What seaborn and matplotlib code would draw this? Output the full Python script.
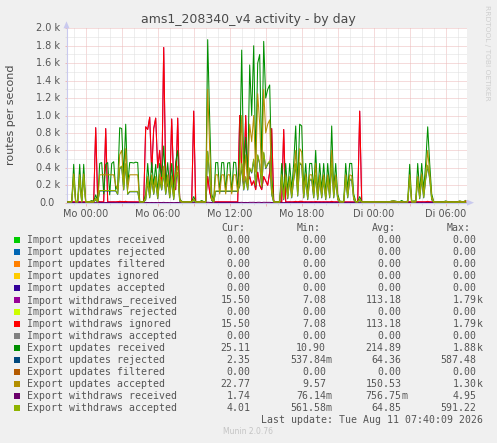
import numpy as np
import pandas as pd
import matplotlib
matplotlib.use("Agg")
import matplotlib.pyplot as plt
import matplotlib.patches as mpatches
import matplotlib.transforms as mtransforms
import seaborn as sns

# ---------------------------------------------------------------- data
# samples every 10 minutes, hours relative to "Mo 00:00"
T_START = -1.5
T_STEP = 1.0 / 6.0

export_updates_received = [
    12, 12, 14, 440, 12, 20, 440, 15, 440, 14,
    12, 13, 25, 14, 90, 15, 450, 460, 100, 440,
    460, 90, 450, 470, 150, 200, 860, 850, 300, 900,
    200, 460, 460, 455, 465, 460, 13, 12, 14, 100,
    450, 150, 460, 200, 440, 120, 450, 300, 650, 200,
    460, 150, 450, 100, 470, 600, 50, 13, 12, 12,
    13, 12, 14, 70, 14, 12, 12, 25, 12, 14,
    1870, 950, 100, 20, 460, 460, 120, 460, 460, 130,
    455, 460, 120, 465, 460, 150, 500, 1750, 350, 750,
    300, 1580, 1000, 1800, 500, 1600, 1700, 450, 1850, 1200,
    1300, 1350, 300, 15, 12, 12, 13, 450, 100, 450,
    120, 450, 150, 450, 880, 200, 900, 880, 150, 450,
    100, 450, 450, 150, 600, 100, 450, 150, 450, 100,
    450, 150, 880, 150, 450, 100, 20, 15, 14, 450,
    150, 450, 450, 100, 15, 12, 70, 14, 12, 13,
    12, 12, 13, 12, 12, 12, 13, 12, 12, 12,
    13, 12, 20, 22, 18, 12, 12, 25, 12, 12,
    20, 440, 15, 20, 20, 450, 120, 450, 150, 450,
    870, 450, 100, 14, 12, 12, 13, 12, 12, 20,
    13, 12, 12, 13, 12, 12, 20, 14, 13, 25.11,
]

import_withdraws_ignored = [
    8, 8, 9, 10, 8, 9, 10, 8, 10, 8,
    8, 9, 10, 9, 860, 20, 10, 10, 9, 850,
    10, 9, 10, 10, 9, 12, 15, 14, 12, 15,
    10, 10, 10, 10, 10, 10, 9, 8, 9, 870,
    840, 980, 350, 850, 970, 400, 600, 200, 1780, 300,
    200, 150, 960, 200, 150, 970, 30, 9, 8, 8,
    9, 8, 10, 1050, 12, 8, 8, 10, 8, 9,
    300, 120, 30, 10, 10, 10, 9, 10, 10, 9,
    10, 10, 9, 10, 10, 9, 1000, 400, 200, 1000,
    250, 300, 200, 250, 150, 350, 200, 150, 300, 250,
    200, 350, 850, 20, 8, 8, 9, 10, 840, 10,
    9, 10, 9, 10, 15, 10, 15, 15, 9, 10,
    9, 10, 10, 9, 12, 9, 10, 9, 10, 9,
    10, 9, 15, 9, 10, 9, 9, 9, 9, 10,
    9, 10, 10, 9, 9, 8, 1050, 12, 8, 9,
    8, 8, 9, 8, 8, 8, 9, 8, 8, 8,
    9, 8, 9, 9, 9, 8, 8, 10, 8, 8,
    9, 10, 9, 10, 10, 10, 9, 10, 9, 10,
    15, 10, 9, 9, 8, 8, 9, 8, 8, 9,
    9, 8, 8, 9, 8, 8, 10, 9, 9, 15.5,
]
# "Import withdraws_received" carries exactly the same values (same stats)
import_withdraws_received = import_withdraws_ignored

export_updates_accepted = [
    10, 10, 11, 330, 10, 15, 320, 12, 330, 11,
    10, 10, 18, 11, 50, 12, 320, 320, 320, 320,
    320, 320, 320, 320, 200, 150, 550, 600, 200, 620,
    150, 320, 320, 320, 320, 320, 10, 10, 11, 60,
    300, 100, 320, 150, 300, 80, 330, 200, 420, 150,
    320, 100, 310, 70, 330, 420, 40, 10, 10, 10,
    11, 10, 11, 40, 11, 10, 10, 18, 10, 11,
    1300, 620, 60, 15, 320, 320, 100, 320, 320, 100,
    320, 320, 100, 320, 320, 110, 350, 1000, 250, 550,
    200, 900, 700, 1000, 350, 1250, 900, 300, 1300, 800,
    900, 950, 200, 12, 10, 10, 10, 320, 60, 320,
    80, 300, 100, 310, 600, 130, 620, 580, 100, 330,
    70, 320, 320, 100, 450, 70, 320, 100, 320, 70,
    320, 100, 600, 100, 320, 70, 15, 12, 11, 320,
    100, 320, 310, 70, 12, 10, 40, 11, 10, 10,
    10, 11, 10, 10, 11, 10, 10, 11, 10, 10,
    10, 10, 18, 20, 15, 10, 10, 14, 10, 10,
    15, 320, 12, 15, 15, 300, 80, 330, 100, 320,
    600, 330, 70, 11, 10, 10, 10, 10, 10, 15,
    11, 10, 10, 11, 10, 10, 18, 12, 11, 22.77,
]

export_withdraws_accepted = [
    5, 5, 5, 300, 5, 6, 290, 5, 300, 5,
    5, 5, 6, 5, 40, 6, 140, 140, 140, 140,
    140, 140, 140, 140, 140, 100, 400, 420, 150, 450,
    100, 130, 130, 130, 130, 130, 5, 5, 6, 40,
    250, 60, 280, 100, 260, 50, 270, 150, 350, 100,
    280, 60, 270, 40, 280, 350, 20, 5, 5, 5,
    5, 5, 6, 30, 5, 5, 5, 6, 5, 5,
    590, 300, 30, 6, 135, 135, 135, 135, 135, 135,
    135, 135, 135, 135, 135, 135, 200, 450, 150, 300,
    150, 400, 350, 500, 200, 550, 450, 180, 580, 400,
    450, 480, 100, 6, 5, 5, 5, 300, 40, 280,
    50, 270, 60, 270, 450, 80, 460, 440, 60, 280,
    40, 270, 270, 60, 320, 40, 270, 60, 270, 40,
    270, 60, 450, 60, 270, 40, 6, 6, 6, 280,
    60, 270, 270, 40, 6, 5, 30, 5, 5, 5,
    5, 5, 5, 5, 5, 5, 5, 5, 5, 5,
    5, 5, 6, 6, 6, 5, 5, 6, 5, 5,
    6, 280, 5, 6, 6, 270, 50, 280, 60, 280,
    430, 280, 40, 5, 5, 5, 5, 5, 5, 6,
    5, 5, 5, 5, 5, 5, 6, 5, 5, 4.01,
]

export_updates_rejected = [
    1, 1, 1, 290, 1, 2, 280, 1, 290, 1,
    1, 1, 3, 1, 35, 2, 135, 135, 135, 135,
    135, 135, 135, 135, 135, 95, 390, 410, 145, 440,
    95, 125, 125, 125, 125, 125, 1, 1, 2, 35,
    240, 55, 270, 95, 250, 45, 260, 145, 340, 95,
    270, 55, 260, 35, 270, 340, 15, 1, 1, 1,
    1, 1, 2, 25, 1, 1, 1, 3, 1, 1,
    587, 290, 25, 4, 130, 130, 130, 130, 130, 130,
    130, 130, 130, 130, 130, 130, 190, 440, 145, 290,
    145, 390, 340, 490, 190, 540, 440, 175, 570, 390,
    440, 470, 95, 2, 1, 1, 1, 290, 35, 270,
    45, 260, 55, 260, 440, 75, 450, 430, 55, 270,
    35, 260, 260, 55, 310, 35, 260, 55, 260, 35,
    260, 55, 440, 55, 260, 35, 3, 2, 2, 270,
    55, 260, 260, 35, 2, 1, 25, 1, 1, 1,
    1, 1, 1, 1, 1, 1, 1, 1, 1, 1,
    1, 1, 2, 2, 2, 1, 1, 2, 1, 1,
    2, 270, 1, 2, 2, 260, 45, 270, 55, 270,
    420, 270, 35, 1, 1, 1, 1, 1, 1, 2,
    1, 1, 1, 1, 1, 1, 2, 1, 1, 2.35,
]

export_withdraws_received = [
    0.3, 0.3, 0.3, 2.1, 0.3, 0.4, 1.9, 0.3, 2.0, 0.3, 0.3, 0.3, 0.5, 0.3, 1.2, 0.4, 1.8, 2.0, 1.0, 2.2,
    1.9, 0.8, 2.1, 2.0, 1.1, 1.0, 3.2, 3.0, 1.4, 3.4, 1.0, 1.9, 2.0, 1.9, 2.0, 1.9, 0.3, 0.2, 0.3, 1.5,
    2.2, 1.0, 2.4, 1.2, 2.3, 0.9, 2.2, 1.5, 3.8, 1.1, 2.1, 0.9, 2.2, 0.8, 2.3, 2.8, 0.4, 0.2, 0.2, 0.2,
    0.2, 0.2, 0.3, 1.1, 0.3, 0.2, 0.2, 0.4, 0.2, 0.3, 4.95, 3.1, 0.6, 0.3, 2.0, 2.0, 0.9, 2.0, 2.0, 0.9,
    2.0, 2.0, 0.9, 2.0, 2.0, 1.0, 2.5, 4.5, 1.5, 3.0, 1.2, 4.2, 3.5, 4.6, 1.8, 4.3, 4.4, 1.6, 4.8, 3.6,
    3.8, 3.9, 1.5, 0.3, 0.2, 0.2, 0.2, 2.0, 1.0, 2.0, 0.8, 2.0, 0.9, 2.0, 3.0, 1.0, 3.1, 3.0, 0.9, 2.0,
    0.8, 2.0, 2.0, 0.9, 2.4, 0.8, 2.0, 0.9, 2.0, 0.8, 2.0, 0.9, 3.0, 0.9, 2.0, 0.8, 0.3, 0.2, 0.2, 2.0,
    0.9, 2.0, 2.0, 0.8, 0.2, 0.1, 1.1, 0.2, 0.1, 0.1, 0.1, 0.1, 0.1, 0.1, 0.1, 0.1, 0.1, 0.1, 0.1, 0.1,
    0.1, 0.1, 0.3, 0.3, 0.2, 0.1, 0.1, 0.3, 0.1, 0.1, 0.2, 1.9, 0.2, 0.3, 0.3, 2.0, 0.8, 2.0, 0.9, 2.0,
    3.0, 2.0, 0.8, 0.2, 0.1, 0.1, 0.1, 0.1, 0.1, 0.3, 0.1, 0.1, 0.1, 0.1, 0.1, 0.1, 0.3, 0.2, 0.2, 1.74,
]

# x ticks
x_major_hours = [0, 3, 6, 9, 12, 15, 18, 21, 24, 27, 30]
x_major_labels = ["Mo 00:00", "", "Mo 06:00", "", "Mo 12:00", "", "Mo 18:00", "",
                  "Di 00:00", "", "Di 06:00"]
y_values = [0, 200, 400, 600, 800, 1000, 1200, 1400, 1600, 1800, 2000]
y_labels = ["0.0", "0.2 k", "0.4 k", "0.6 k", "0.8 k", "1.0 k", "1.2 k", "1.4 k",
            "1.6 k", "1.8 k", "2.0 k"]

# legend table (as printed by munin)
legend_names = [
    "Import updates received", "Import updates rejected", "Import updates filtered",
    "Import updates ignored", "Import updates accepted", "Import withdraws_received",
    "Import withdraws rejected", "Import withdraws ignored", "Import withdraws accepted",
    "Export updates received", "Export updates rejected", "Export updates filtered",
    "Export updates accepted", "Export withdraws received", "Export withdraws accepted",
]
legend_colors = [
    "#00CC00", "#0066B3", "#FF8000", "#FFCC00", "#330099", "#990099", "#CCFF00",
    "#FF0000", "#808080", "#008F00", "#00487D", "#B35A00", "#B38F00", "#6B006B", "#8FB300",
]
cur_vals = ["0.00", "0.00", "0.00", "0.00", "0.00", "15.50", "0.00", "15.50", "0.00",
            "25.11", "2.35", "0.00", "22.77", "1.74", "4.01"]
min_vals = ["0.00", "0.00", "0.00", "0.00", "0.00", "7.08", "0.00", "7.08", "0.00",
            "10.90", "537.84m", "0.00", "9.57", "76.14m", "561.58m"]
avg_vals = ["0.00", "0.00", "0.00", "0.00", "0.00", "113.18", "0.00", "113.18", "0.00",
            "214.89", "64.36", "0.00", "150.53", "756.75m", "64.85"]
max_vals = ["0.00", "0.00", "0.00", "0.00", "0.00", "1.79k", "0.00", "1.79k", "0.00",
            "1.88k", "587.48", "0.00", "1.30k", "4.95", "591.22"]

# ---------------------------------------------------------------- build frame
N = len(export_updates_received)
hours = T_START + np.arange(N) * T_STEP
drawn = [
    ("Import withdraws_received", import_withdraws_received, "#990099"),
    ("Import withdraws ignored", import_withdraws_ignored, "#FF0000"),
    ("Export updates received", export_updates_received, "#008F00"),
    ("Export updates rejected", export_updates_rejected, "#00487D"),
    ("Export updates accepted", export_updates_accepted, "#B38F00"),
    ("Export withdraws received", export_withdraws_received, "#6B006B"),
    ("Export withdraws accepted", export_withdraws_accepted, "#8FB300"),
]
for name, vals, _ in drawn:
    assert len(vals) == N, (name, len(vals))
df = pd.concat(
    [pd.DataFrame({"hours": hours, "rate": np.asarray(v, float), "series": n}) for n, v, _ in drawn],
    ignore_index=True)

# ---------------------------------------------------------------- figure
W_PX, H_PX, DPI = 497, 443, 100
fig = plt.figure(figsize=(W_PX / DPI, H_PX / DPI), dpi=DPI, facecolor="#F0F0F0")


def fx(x):
    return x / W_PX


def fy(y):
    return 1 - y / H_PX


AX_L, AX_R, AX_T, AX_B = 66.5, 467.0, 28.3, 202.7
ax = fig.add_axes([fx(AX_L), fy(AX_B), (AX_R - AX_L) / W_PX, (AX_B - AX_T) / H_PX])
ax.set_facecolor("white")

sns.lineplot(data=df, x="hours", y="rate", hue="series",
             hue_order=[d[0] for d in drawn],
             palette={d[0]: d[2] for d in drawn},
             estimator=None, sort=False, legend=False, linewidth=0.75, ax=ax, zorder=3)

ax.set_xlim(-1.6, 31.775)
ax.set_ylim(0, 2000)
ax.set_xlabel("")
ax.set_ylabel("")

MGRID = "#EDB9B9"
GRID = "#DFDFDF"
AXIS_C = "#C9C9EE"
ax.set_xticks(x_major_hours, x_major_labels)
ax.set_xticks(np.arange(-1, 32, 1), minor=True)
ax.set_yticks(y_values, [""] * len(y_values))
ax.set_yticks(np.arange(100, 2000, 200), minor=True)
ax.set_axisbelow(True)
ax.grid(which="major", color=MGRID, linestyle=(0, (1, 1)), linewidth=0.72)
ax.grid(which="minor", color=GRID, linestyle=(0, (1, 1)), linewidth=0.72)
ax.tick_params(axis="x", which="major", length=2.3, width=0.72, color=MGRID, pad=2.3,
               labelsize=7, labelcolor="#555555")
ax.tick_params(axis="x", which="minor", length=1.5, width=0.72, color=GRID)
ax.tick_params(axis="y", which="major", length=1.5, width=0.72, color=MGRID)
ax.tick_params(axis="y", which="minor", length=1.5, width=0.72, color=GRID)
for s in ("top", "right"):
    ax.spines[s].set_visible(False)
for s in ("left", "bottom"):
    ax.spines[s].set_color(AXIS_C)
    ax.spines[s].set_linewidth(0.8)

# y tick labels (rrdtool style, "0.0" without unit)
ytrans = mtransforms.blended_transform_factory(ax.transAxes, ax.transData)
for v, lab in zip(y_values, y_labels):
    off = -6.5 if lab.endswith("k") else -11.5
    ax.text(0, v, lab, transform=ytrans + mtransforms.ScaledTranslation(off / DPI, 0, fig.dpi_scale_trans),
            ha="right", va="center", fontsize=7, color="#555555")

# axis arrows
fig.patches.append(mpatches.Polygon(
    [(fx(467), fy(199.7)), (fx(474), fy(202.7)), (fx(467), fy(205.7))],
    closed=True, transform=fig.transFigure, facecolor=AXIS_C, edgecolor="none"))
fig.patches.append(mpatches.Polygon(
    [(fx(63.5), fy(28.3)), (fx(66.5), fy(21.3)), (fx(69.5), fy(28.3))],
    closed=True, transform=fig.transFigure, facecolor=AXIS_C, edgecolor="none"))

# titles
fig.text(fx(248.3), fy(23.3), "ams1_208340_v4 activity - by day", ha="center", va="baseline",
         fontsize=9, color="#4A4A4A")
fig.text(fx(11.5), fy(115), "routes per second", rotation=90, ha="center", va="center",
         fontsize=8, color="#4A4A4A")
fig.text(fx(487.5), fy(5), "RRDTOOL / TOBI OETIKER", rotation=270, ha="center", va="top",
         fontsize=5.4, color="#CFCFCF")

# legend table
MONO = "DejaVu Sans Mono"
FS = 7.1
TXT = "#555555"
headers = [("Cur:", 221.7), ("Min:", 296.7), ("Avg:", 371.7), ("Max:", 446.7)]
for h, x in headers:
    fig.text(fx(x), fy(230.7), h, family=MONO, fontsize=FS, color=TXT, ha="left", va="baseline")

col_right = [250.7, 326.0, 401.3, 476.7]
for k, name in enumerate(legend_names):
    base = 243.0 + 12 * k
    top = 237.3 + 12 * k
    fig.patches.append(mpatches.Rectangle((fx(14.0), fy(top + 5.5)), 5.5 / W_PX, 5.5 / H_PX,
                                          transform=fig.transFigure,
                                          facecolor=legend_colors[k], edgecolor="none"))
    fig.text(fx(26.7), fy(base), name, family=MONO, fontsize=FS, color=TXT, ha="left", va="baseline")
    for vals, xr in zip((cur_vals, min_vals, avg_vals, max_vals), col_right):
        s = vals[k]
        num, suf = (s[:-1], s[-1]) if s[-1] in "mk" else (s, "")
        fig.text(fx(xr), fy(base), num, family=MONO, fontsize=FS, color=TXT, ha="right", va="baseline")
        if suf:
            fig.text(fx(xr), fy(base), suf, family=MONO, fontsize=FS, color=TXT, ha="left", va="baseline")

fig.text(fx(482.7), fy(423.3), "Last update: Tue Aug 11 07:40:09 2026", family=MONO, fontsize=FS,
         color=TXT, ha="right", va="baseline")
fig.text(fx(248.0), fy(434.3), "Munin 2.0.76", ha="center", va="baseline", fontsize=5.5, color="#C4C4C4")

fig.savefig("out.png", dpi=DPI, facecolor=fig.get_facecolor())
